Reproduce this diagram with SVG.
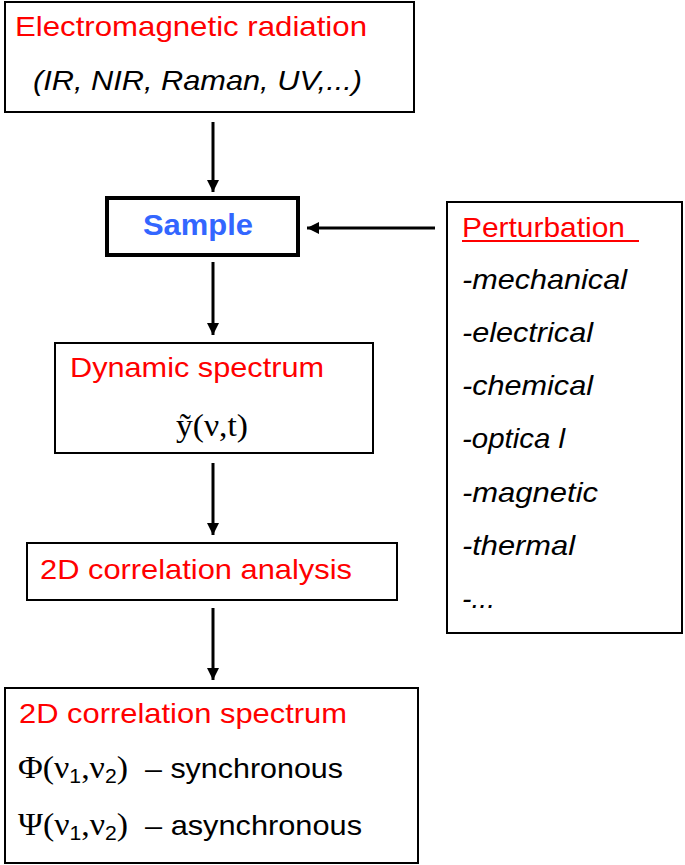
<svg xmlns="http://www.w3.org/2000/svg" width="685" height="865" viewBox="0 0 685 865">
<style>
.box{fill:#fff;stroke:#000;stroke-width:2}
.thick{stroke-width:4}
.red{fill:#ff0000;font-family:"Liberation Sans",Arial,sans-serif;font-size:28px}
.blk{fill:#000;font-family:"Liberation Sans",Arial,sans-serif;font-size:28px}
.it{font-style:italic}
.ser{font-family:"Liberation Serif","Times New Roman",serif;font-size:32px}
.sub{font-family:"Liberation Sans",Arial,sans-serif;font-size:20px}
.conn{stroke:#000;stroke-width:3;fill:none;marker-end:url(#ah)}
</style>
<defs>
<marker id="ah" viewBox="0 0 10 10" refX="10" refY="5" markerWidth="4" markerHeight="4" markerUnits="strokeWidth" orient="auto">
<path d="M0,0 L10,5 L0,10 Z" fill="#000"/>
</marker>
</defs>
<rect width="685" height="865" fill="#fff"/>
<g id="connectors">
<line class="conn" x1="213" y1="122" x2="213" y2="192"/>
<line class="conn" x1="213" y1="262" x2="213" y2="335"/>
<line class="conn" x1="213" y1="463" x2="213" y2="535"/>
<line class="conn" x1="213" y1="608" x2="213" y2="680"/>
<line class="conn" x1="435" y1="228" x2="307" y2="228"/>
</g>
<g id="em">
<rect class="box" x="5" y="2" width="409" height="110"/>
<text class="red" x="15" y="36" textLength="352" lengthAdjust="spacingAndGlyphs">Electromagnetic radiation</text>
<text class="blk it" x="33" y="90" textLength="329" lengthAdjust="spacingAndGlyphs">(IR, NIR, Raman, UV,...)</text>
</g>
<g id="sample">
<rect class="box thick" x="107" y="198" width="191" height="57"/>
<text x="143" y="235" textLength="110" lengthAdjust="spacingAndGlyphs" style="fill:#3366ff;font-family:'Liberation Sans',Arial,sans-serif;font-size:29px;font-weight:bold">Sample</text>
</g>
<g id="perturbation">
<rect class="box" x="447" y="202" width="235" height="431"/>
<text class="red" x="462" y="237" textLength="163" lengthAdjust="spacingAndGlyphs">Perturbation</text>
<line x1="462" y1="241" x2="639" y2="241" stroke="#ff0000" stroke-width="2"/>
<text class="blk it" x="462" y="289" textLength="165" lengthAdjust="spacingAndGlyphs">-mechanical</text>
<text class="blk it" x="462" y="342" textLength="131" lengthAdjust="spacingAndGlyphs">-electrical</text>
<text class="blk it" x="462" y="395" textLength="131" lengthAdjust="spacingAndGlyphs">-chemical</text>
<text class="blk it" x="462" y="448" textLength="103" lengthAdjust="spacingAndGlyphs">-optica l</text>
<text class="blk it" x="462" y="502" textLength="136" lengthAdjust="spacingAndGlyphs">-magnetic</text>
<text class="blk it" x="462" y="555" textLength="113" lengthAdjust="spacingAndGlyphs">-thermal</text>
<text class="blk it" x="462" y="608" textLength="33" lengthAdjust="spacingAndGlyphs">-...</text>
</g>
<g id="dynamic">
<rect class="box" x="55" y="343" width="318" height="110"/>
<text class="red" x="70" y="377" textLength="254" lengthAdjust="spacingAndGlyphs">Dynamic spectrum</text>
<text class="blk ser" x="176" y="436" textLength="72" lengthAdjust="spacingAndGlyphs">ỹ(ν,t)</text>
</g>
<g id="analysis">
<rect class="box" x="27" y="543" width="370" height="57"/>
<text class="red" x="40" y="579" textLength="312" lengthAdjust="spacingAndGlyphs">2D correlation analysis</text>
</g>
<g id="spectrum2d">
<rect class="box" x="5" y="688" width="413" height="175"/>
<text class="red" x="19" y="723" textLength="328" lengthAdjust="spacingAndGlyphs">2D correlation spectrum</text>
<text class="blk ser" x="18" y="778" textLength="110" lengthAdjust="spacingAndGlyphs">Φ(ν<tspan class="sub" dy="5">1</tspan><tspan dy="-5">,ν</tspan><tspan class="sub" dy="5">2</tspan><tspan dy="-5">)</tspan></text>
<text class="blk" x="145" y="778" textLength="198" lengthAdjust="spacingAndGlyphs">– synchronous</text>
<text class="blk ser" x="18" y="835" textLength="110" lengthAdjust="spacingAndGlyphs">Ψ(ν<tspan class="sub" dy="5">1</tspan><tspan dy="-5">,ν</tspan><tspan class="sub" dy="5">2</tspan><tspan dy="-5">)</tspan></text>
<text class="blk" x="145" y="835" textLength="217" lengthAdjust="spacingAndGlyphs">– asynchronous</text>
</g>
</svg>
